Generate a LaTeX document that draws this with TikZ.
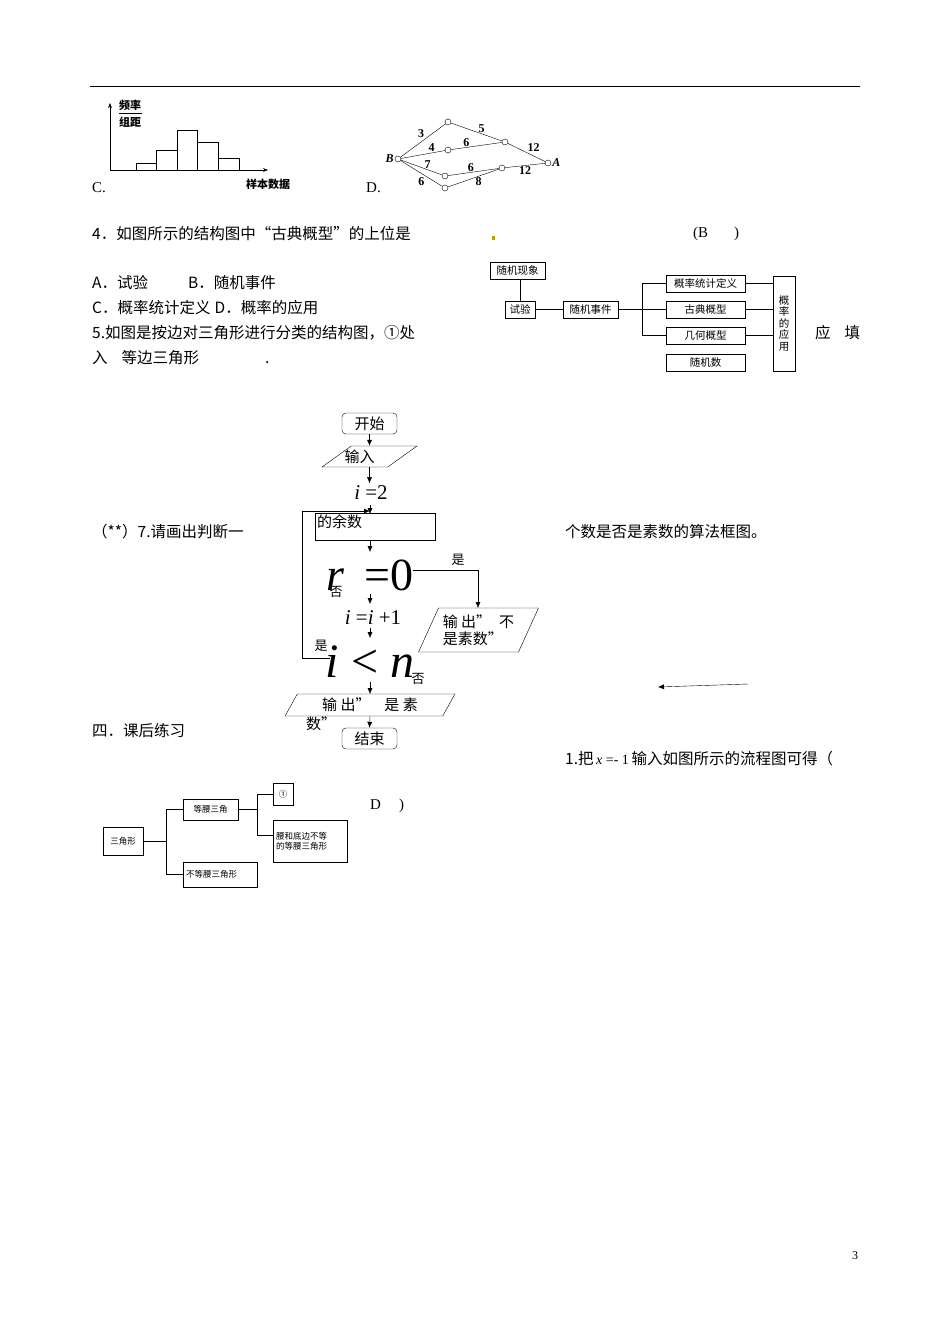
\documentclass[tikz,border=0pt]{standalone}
\usepackage{fontspec}
\setmainfont{Noto Sans CJK SC}
\newfontfamily\lat{Liberation Serif}
\newcommand{\vi}[1]{{\lat\itshape #1}}
\usetikzlibrary{arrows.meta,shapes.geometric}
\begin{document}
\begin{tikzpicture}[x=1pt,y=-1pt,
 txt/.style={anchor=west,inner sep=0pt,font=\fontsize{15.5}{17}\selectfont},
 sm/.style={draw,inner sep=0pt,font=\fontsize{10.5}{12}\selectfont},
 tiny/.style={draw,inner sep=0pt,font=\fontsize{8.5}{10}\selectfont},
 dot/.style={circle,draw,fill=white,inner sep=0pt,minimum size=6pt},
 el/.style={font=\lat\bfseries\fontsize{12}{12}\selectfont,inner sep=1pt},
 arr/.style={-{Latex[length=6pt,width=5pt]}},
 fc/.style={draw,inner sep=0pt,font=\fontsize{15}{17}\selectfont},
 pg/.style={fc,trapezium,trapezium left angle=60,trapezium right angle=120,trapezium stretches=true}]
\useasboundingbox (0,0) rectangle (950,1344);
\draw[line width=1pt] (90,86) -- (860,86);
% histogram
\draw[-{Stealth[length=5pt]}] (110,170) -- (110,103);
\draw[-{Stealth[length=5pt]}] (110,170) -- (268,170);
\draw (136,170) rectangle (156,163) (156,170) rectangle (177,150) (177,170) rectangle (197,130) (197,170) rectangle (218,142) (218,170) rectangle (239,158);
\node[font=\bfseries\fontsize{11}{12}\selectfont,inner sep=0pt] (f1) at (130,105) {频率};
\node[font=\bfseries\fontsize{11}{12}\selectfont,inner sep=0pt] (f2) at (130,122) {组距};
\draw (119,113.5) -- (142,113.5);
\node[font=\bfseries\fontsize{11}{12}\selectfont,inner sep=0pt] (xl) at (268,184) {样本数据};
\node[txt,font=\lat\fontsize{15}{16}\selectfont] (c) at (92,188) {C.};
\node[txt,font=\lat\fontsize{15}{16}\selectfont] (d) at (366,188) {D.};
% graph
\node[dot] (B) at (398,159) {}; \node[el,anchor=east] at (B.west) {\itshape B};
\node[dot] (t1) at (448,122) {}; \node[dot] (t2) at (505,142) {};
\node[dot] (m1) at (448,150) {}; \node[dot] (A) at (548,163) {}; \node[el,anchor=west] at (A.east) {\itshape A};
\node[dot] (l1) at (445,176) {}; \node[dot] (l2) at (502,168) {}; \node[dot] (b1) at (445,188) {};
\draw (B)--node[el,above left,pos=.55]{3}(t1); \draw (t1)--node[el,above,pos=.6]{5}(t2);
\draw (t2)--node[el,above right,pos=.5]{12}(A); \draw (B)--node[el,above,pos=.7]{4}(m1);
\draw (m1)--node[el,above,pos=.3]{6}(t2); \draw (B)--node[el,above,pos=.65]{7}(l1);
\draw (l1)--node[el,above,pos=.45]{6}(l2); \draw (l2)--node[el,below,pos=.5]{12}(A);
\draw (B)--node[el,below left,pos=.6]{6}(b1); \draw (b1)--node[el,below,pos=.6]{8}(l2);
% Q4
\node[txt] (q4) at (92,234) {4．如图所示的结构图中“古典概型”的上位是};
\fill[olive!70!yellow] (492,236) rectangle (495,240);
\node[txt,font=\lat\fontsize{15}{16}\selectfont] (ans4) at (693,234) {(B\hspace{26pt})};
\node[txt] (a) at (92,283) {A．试验\hspace{40pt}B．随机事件};
\node[txt] (cc) at (92,308) {C．概率统计定义\hspace{4pt}D．概率的应用};
\node[txt] (q5) at (92,333) {5.如图是按边对三角形进行分类的结构图，①处};
\node[txt] (q5b) at (92,358) {入\hspace{14pt}等边三角形\hspace{66pt}.};
\node[txt] (yt) at (815,333) {应\hspace{14pt}填};
% structure diagram
\node[sm,minimum width=55pt,minimum height=17pt] (sx) at (517.5,270.5) {随机现象};
\node[sm,minimum width=30pt,minimum height=17pt] (sy) at (520,309.5) {试验};
\node[sm,minimum width=55pt,minimum height=17pt] (sj) at (590.5,309.5) {随机事件};
\node[sm,minimum width=79pt,minimum height=17pt] (r1) at (705.5,283.5) {概率统计定义};
\node[sm,minimum width=79pt,minimum height=17pt] (r2) at (705.5,309.5) {古典概型};
\node[sm,minimum width=79pt,minimum height=17pt] (r3) at (705.5,335.5) {几何概型};
\node[sm,minimum width=79pt,minimum height=17pt] (r4) at (705.5,362.5) {随机数};
\node[sm,minimum width=22pt,minimum height=95pt,align=center,font=\fontsize{10.5}{11.5}\selectfont] (ap) at (784,323.5) {概\\率\\的\\应\\用};
\draw (sx.south-|sy) -- (sy.north);
\draw (sy) -- (sj); \draw (sj.east) -- (r2.west);
\draw (642,283.5) -- (r1.west); \draw (642,283.5) -- (642,335.5) -- (r3.west);
\foreach \r in {r1,r2,r3} \draw (\r.east) -- (\r.east-|ap.west);
% Q7 text
\node[txt] (q7) at (92,532) {（**）7.请画出判断一};
\node[txt] (q7b) at (565,532) {个数是否是素数的算法框图。};
% flowchart
\node[fc,rounded corners=4pt,minimum width=55pt,minimum height=21pt] (st) at (369.5,423.5) {开始};
\node[pg,minimum width=95pt,minimum height=21pt] (in) at (369.5,456.5) {\hspace*{-20pt}输入};
\node[inner sep=1pt,font=\lat\fontsize{21}{22}\selectfont] (i2) at (371,493) {\vi{i} =2};
\node[fc,minimum width=120pt,minimum height=27pt,text width=116pt] (rm) at (375,526.5) {的余数\\[-6pt]\mbox{}};
\node[inner sep=0pt,font=\lat\fontsize{46}{46}\selectfont] (r0) at (370,575) {\vi{r}\, =0};
\node[pg,minimum width=120pt,minimum height=44pt,align=left] (no) at (478.5,630) {输 出”\hspace{8pt}不\\是素数”};
\node[inner sep=1pt,font=\lat\fontsize{21}{22}\selectfont] (ii) at (373,618) {\vi{i} =\vi{i} +1};
\node[inner sep=0pt,font=\lat\fontsize{48}{48}\selectfont] (lt) at (370,662) {\vi{i} < \vi{n}};
\node[pg,minimum width=170pt,minimum height=22pt] (ys) at (370,705) {输 出”\hspace{14pt}是 素};
\node[font=\fontsize{15}{16}\selectfont,inner sep=0pt] (ys2) at (321,724) {数”};
\node[fc,rounded corners=4pt,minimum width=55pt,minimum height=21pt] (en) at (369.5,738.5) {结束};
\node[font=\fontsize{13}{14}\selectfont] (shi1) at (458,560) {是};
\node[font=\fontsize{13}{14}\selectfont] (fou1) at (336,592) {否};
\node[font=\fontsize{13}{14}\selectfont] (shi2) at (321,646) {是};
\node[font=\fontsize{13}{14}\selectfont] (fou2) at (418,679) {否};
\draw[arr] (st) -- (in);
\draw[arr] (in.south) -- ++(0,16);
\draw[arr] (370,505) -- (370,514);
\draw[arr] (370,541) -- (370,552);
\draw[arr] (413,570) -- (478,570) -- (478,608);
\draw[arr] (370,594) -- (370,604);
\draw[arr] (370,628) -- (370,638);
\draw[arr] (330,658) -- (302,658) -- (302,511) -- (370,511);
\draw[arr] (370,682) -- (370,694);
\draw[arr] (370,716) -- (en.north);
\draw[arr] (748,684) -- (658,687);
% section
\node[txt] (s4) at (92,731) {四．课后练习};
\node[txt] (q1) at (565,759) {1.把\,{\lat\fontsize{14}{14}\selectfont\vi{x} =- 1}\,输入如图所示的流程图可得（};
% triangle tree
\node[tiny,minimum width=40pt,minimum height=28pt] (tri) at (123,841) {三角形};
\node[tiny,minimum width=55pt,minimum height=21pt] (iso) at (210.5,809.5) {等腰三角};
\node[tiny,minimum width=74pt,minimum height=25pt,text width=68pt] (nis) at (220,874.5) {不等腰三角形};
\node[tiny,minimum width=20pt,minimum height=22pt] (eq) at (283,794) {①};
\node[tiny,minimum width=74pt,minimum height=42pt,text width=68pt,align=left] (ne) at (310,841) {腰和底边不等\\的等腰三角形};
\draw (tri.east) -- (166,841) (166,809.5) -- (iso.west) (166,809.5) -- (166,874.5) -- (nis.west);
\draw (iso.east) -- (257,809.5) (257,794) -- (eq.west) (257,794) -- (257,835) -- (273,835);
\node[txt,font=\lat\fontsize{15}{16}\selectfont] (dd) at (370,806) {D\hspace{18pt})};
\node[font=\lat\fontsize{12}{14}\selectfont] (pn) at (855,1256) {3};
\end{tikzpicture}
\end{document}
